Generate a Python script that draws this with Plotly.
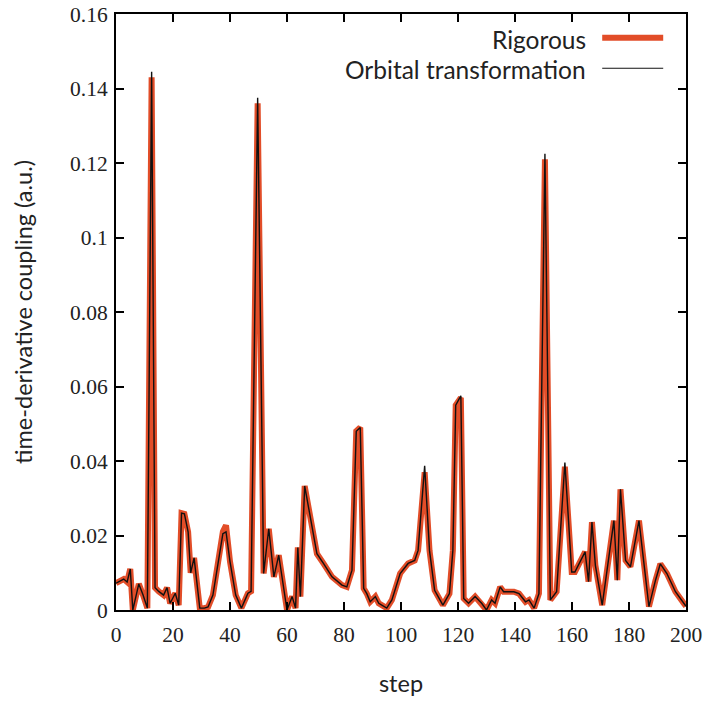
import plotly.graph_objects as go

steps = [0, 1.5, 2.7, 3.9, 5, 5.9, 8, 9.5, 11, 12.5, 13.7, 15, 16.7, 17.9, 19, 20.8, 22, 23, 24,
         25.3, 26.2, 27.4, 29.4, 31, 32.3, 34, 36, 37.5, 38.6, 40, 42, 44, 46.3, 47.4, 49.7,
         51.8, 53.6, 55.4, 57.1, 58.3, 60, 61.8, 63, 63.8, 64.7, 66.2, 68.2, 70.5, 72.9, 75.8,
         79.3, 81, 82.8, 84.3, 85.7, 86.9, 88, 89.2, 91, 92.2, 95, 96.8, 99.7, 102.5, 104.8,
         106, 108.3, 110, 111.8, 114.7, 117, 118.2, 119.2, 121, 122, 123.7, 126, 128.3, 130,
         131.8, 133, 134.8, 136, 139.6, 141.4, 143.7, 144.9, 146.7, 148.4, 150.5, 152.4, 154.6,
         157.5, 159.9, 161, 164.6, 165.8, 167, 168.2, 170.6, 174.7, 175.9, 177, 178.8, 180.5,
         183.5, 187, 189.3, 191, 193.3, 196.3, 199.2, 200]

rigorous = [0.0072, 0.0078, 0.0083, 0.0075, 0.011, 0.0, 0.007, 0.004, 0.0005, 0.143, 0.006,
            0.005, 0.004, 0.006, 0.0018, 0.0045, 0.0013, 0.026, 0.0258, 0.021, 0.010, 0.014,
            0.0005, 0.0005, 0.0008, 0.004, 0.013, 0.021, 0.0227, 0.013, 0.004, 0.0005, 0.0045,
            0.005, 0.136, 0.0098, 0.0218, 0.0089, 0.0147, 0.0089, 0.0, 0.0036, 0.0005, 0.0168,
            0.0036, 0.0333, 0.0249, 0.0151, 0.0124, 0.0089, 0.0067, 0.0062, 0.0107, 0.048,
            0.049, 0.0058, 0.0044, 0.0022, 0.0036, 0.0018, 0.0005, 0.0027, 0.0098, 0.0125,
            0.0133, 0.016, 0.037, 0.016, 0.0053, 0.0013, 0.0044, 0.016, 0.055, 0.057, 0.0031,
            0.0018, 0.0036, 0.0018, 0.0, 0.0027, 0.0018, 0.0062, 0.0049, 0.0049, 0.0044, 0.0022,
            0.0027, 0.0005, 0.0044, 0.121, 0.0027, 0.0049, 0.0385, 0.0102, 0.0102, 0.0156,
            0.0076, 0.0236, 0.012, 0.0013, 0.024, 0.008, 0.0324, 0.0133, 0.0116, 0.024, 0.0009,
            0.008, 0.0124, 0.0098, 0.0049, 0.0018, 0.001]

orbital = [0.0072, 0.0078, 0.0083, 0.0075, 0.011, 0.0, 0.007, 0.004, 0.0005, 0.1445, 0.006,
           0.005, 0.004, 0.006, 0.0018, 0.0045, 0.0013, 0.026, 0.0258, 0.021, 0.010, 0.014,
           0.0005, 0.0005, 0.0008, 0.004, 0.013, 0.0205, 0.021, 0.013, 0.004, 0.0005, 0.0045,
           0.005, 0.1375, 0.0098, 0.0218, 0.0089, 0.0147, 0.0089, 0.0, 0.0036, 0.0005, 0.0168,
           0.0036, 0.0333, 0.0249, 0.0151, 0.0124, 0.0089, 0.0067, 0.0062, 0.0107, 0.048,
           0.049, 0.0058, 0.0044, 0.0022, 0.0036, 0.0018, 0.0005, 0.0027, 0.0098, 0.0125,
           0.0133, 0.016, 0.0387, 0.016, 0.0053, 0.0013, 0.0044, 0.016, 0.055, 0.0575, 0.0031,
           0.0018, 0.0036, 0.0018, 0.0, 0.0027, 0.0018, 0.0062, 0.0049, 0.0049, 0.0044, 0.0022,
           0.0027, 0.0005, 0.0044, 0.1225, 0.0027, 0.0049, 0.0396, 0.0102, 0.0102, 0.0156,
           0.0076, 0.0236, 0.012, 0.0013, 0.024, 0.008, 0.0324, 0.0133, 0.0116, 0.024, 0.0009,
           0.008, 0.0124, 0.0098, 0.0049, 0.0018, 0.001]

x_ticks = [0, 20, 40, 60, 80, 100, 120, 140, 160, 180, 200]
y_ticks = [0, 0.02, 0.04, 0.06, 0.08, 0.1, 0.12, 0.14, 0.16]
y_tick_labels = ["0", "0.02", "0.04", "0.06", "0.08", "0.1", "0.12", "0.14", "0.16"]

ORANGE = "#E24D28"
TICKFONT = dict(family="Liberation Serif", size=21.5, color="#222222")
TITLEFONT = dict(family="Lato", size=23.5, color="#222222")
LEGENDFONT = dict(family="Lato", size=24.5, color="#222222")

fig = go.Figure()
fig.add_trace(go.Scatter(x=steps, y=rigorous, mode="lines", name="Rigorous",
                         line=dict(color=ORANGE, width=6), showlegend=False))
fig.add_trace(go.Scatter(x=steps, y=orbital, mode="lines", name="Orbital transformation",
                         line=dict(color="#111111", width=1.4), showlegend=False))

# legend drawn manually (text left of sample, as in reference)
fig.add_annotation(x=0.828, y=0.958, xref="paper", yref="paper", text="Rigorous",
                   showarrow=False, xanchor="right", yanchor="middle", font=LEGENDFONT)
fig.add_annotation(x=0.828, y=0.907, xref="paper", yref="paper", text="Orbital transformation",
                   showarrow=False, xanchor="right", yanchor="middle", font=LEGENDFONT)
fig.add_shape(type="line", xref="paper", yref="paper", x0=0.853, x1=0.96, y0=0.960, y1=0.960,
              line=dict(color=ORANGE, width=6))
fig.add_shape(type="line", xref="paper", yref="paper", x0=0.853, x1=0.96, y0=0.909, y1=0.909,
              line=dict(color="#111111", width=1.2))

fig.update_layout(
    width=709, height=704,
    margin=dict(l=116, r=23, t=14, b=94),
    plot_bgcolor="white", paper_bgcolor="white",
)
fig.update_xaxes(range=[0, 200], tickvals=x_ticks, ticks="inside", ticklen=8, tickwidth=1.5,
                 tickcolor="black", showline=True, linecolor="black", linewidth=2,
                 mirror="allticks", showgrid=False, zeroline=False, tickfont=TICKFONT,
                 automargin=False, ticklabelstandoff=4, ticklabeloverflow="allow",
                 title=dict(text="step", font=TITLEFONT, standoff=30))
fig.update_yaxes(range=[0, 0.16], tickvals=y_ticks, ticktext=y_tick_labels, ticks="inside",
                 ticklen=8, tickwidth=1.5, tickcolor="black", showline=True, linecolor="black",
                 linewidth=2, mirror="allticks", showgrid=False, zeroline=False,
                 tickfont=TICKFONT, automargin=False, ticklabelstandoff=2,
                 ticklabeloverflow="allow",
                 title=dict(text="time-derivative coupling (a.u.)", font=TITLEFONT, standoff=31))

fig.write_html("out.html", post_script="document.body.style.margin='0';",
               config={"displayModeBar": False})
